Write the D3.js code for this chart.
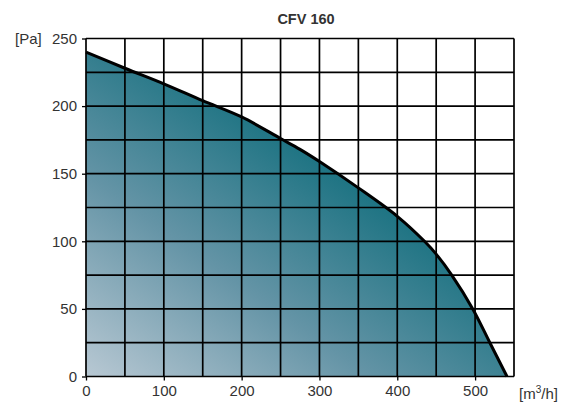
<!DOCTYPE html>
<html>
<head>
<meta charset="utf-8">
<script src="https://cdn.jsdelivr.net/npm/d3@7"></script>
<style>
  body { margin: 0; background: #fff; }
  svg { display: block; font-family: "Liberation Sans", Arial, sans-serif; }
</style>
</head>
<body>
<svg id="chart" width="563" height="405"></svg>
<script>
(function () {
  const title = 'CFV 160';

  // fan curve
  const flow = [0, 50, 100, 150, 200, 250, 275, 300, 350, 400, 435, 450, 470, 497, 519, 541];
  const pressure = [240, 228, 216.5, 204, 192, 176, 168, 159, 139.5, 118.5, 100, 90.5, 75, 50, 25, 0];

  const xTicks = [0, 100, 200, 300, 400, 500];
  const yTicks = [0, 50, 100, 150, 200, 250];
  const xGrid = d3.range(0, 551, 50);
  const yGrid = d3.range(0, 251, 25);

  const svg = d3.select('#chart');
  const margin = { top: 38.5, right: 49, bottom: 28.5, left: 86 };
  const width = 563 - margin.left - margin.right;
  const height = 405 - margin.top - margin.bottom;

  const x = d3.scaleLinear().domain([0, 550]).range([0, width]);
  const y = d3.scaleLinear().domain([0, 250]).range([height, 0]);

  const defs = svg.append('defs');
  const grad = defs.append('linearGradient')
    .attr('id', 'fill-grad')
    .attr('gradientUnits', 'userSpaceOnUse')
    .attr('x1', 0).attr('y1', height)
    .attr('x2', 190).attr('y2', 70);
  grad.append('stop').attr('offset', 0).attr('stop-color', '#b8c8d3');
  grad.append('stop').attr('offset', 0.5).attr('stop-color', '#6494a6');
  grad.append('stop').attr('offset', 1).attr('stop-color', '#16707f');

  const g = svg.append('g').attr('transform', `translate(${margin.left},${margin.top})`);

  const pts = flow.map((f, i) => [f, pressure[i]]);
  const curve = d3.curveCatmullRom.alpha(0.5);

  // Filled area under the curve
  g.append('path')
    .datum(pts)
    .attr('fill', 'url(#fill-grad)')
    .attr('d', d3.area()
      .x(d => x(d[0]))
      .y0(y(0))
      .y1(d => y(d[1]))
      .curve(curve));

  // Grid
  g.append('g')
    .selectAll('line')
    .data(xGrid)
    .join('line')
    .attr('x1', d => x(d)).attr('x2', d => x(d))
    .attr('y1', 0).attr('y2', height)
    .attr('stroke', '#000')
    .attr('stroke-width', 1.7);

  g.append('g')
    .selectAll('line')
    .data(yGrid)
    .join('line')
    .attr('x1', 0).attr('x2', width)
    .attr('y1', d => y(d)).attr('y2', d => y(d))
    .attr('stroke', '#000')
    .attr('stroke-width', 1.7);

  // Curve
  g.append('path')
    .datum(pts)
    .attr('fill', 'none')
    .attr('stroke', '#000')
    .attr('stroke-width', 3)
    .attr('d', d3.line()
      .x(d => x(d[0]))
      .y(d => y(d[1]))
      .curve(curve));

  // Axes
  const xAxis = g.append('g')
    .attr('transform', `translate(0,${height})`)
    .call(d3.axisBottom(x).tickValues(xTicks).tickSize(4).tickPadding(5));
  const yAxis = g.append('g')
    .call(d3.axisLeft(y).tickValues(yTicks).tickSize(4).tickPadding(5));

  [xAxis, yAxis].forEach(a => {
    a.select('.domain').remove();
    a.selectAll('line').attr('stroke', '#000').attr('stroke-width', 1.3);
    a.selectAll('text')
      .attr('fill', '#333')
      .style('font-size', '15px')
      .style('font-family', '"Liberation Sans", Arial, sans-serif');
  });

  // Labels
  svg.append('text')
    .attr('x', 306).attr('y', 24)
    .attr('text-anchor', 'middle')
    .attr('font-weight', 'bold')
    .attr('font-size', 14.5)
    .attr('fill', '#333')
    .text(title);

  svg.append('text')
    .attr('x', 15).attr('y', 44)
    .attr('font-size', 15)
    .attr('fill', '#333')
    .text('[Pa]');

  const unit = svg.append('text')
    .attr('x', 519).attr('y', 399)
    .attr('font-size', 15)
    .attr('fill', '#333');
  unit.append('tspan').text('[m');
  unit.append('tspan').attr('dy', -6).attr('font-size', 10).text('3');
  unit.append('tspan').attr('dy', 6).text('/h]');
})();
</script>
</body>
</html>
